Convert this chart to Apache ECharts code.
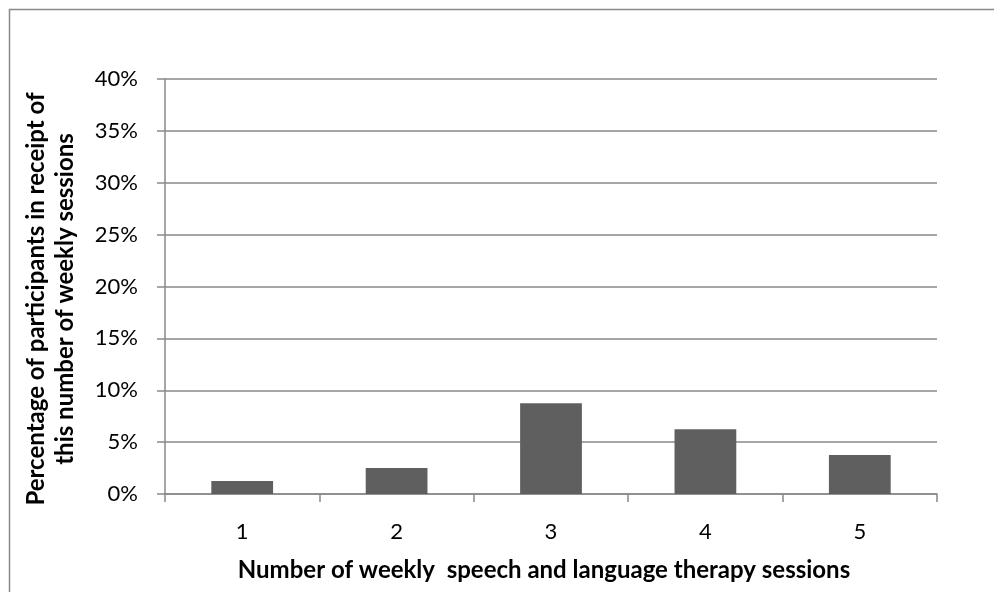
<!DOCTYPE html>
<html>
<head>
<meta charset="utf-8">
<script src="https://cdn.jsdelivr.net/npm/echarts@6/dist/echarts.min.js"></script>
<style>
html,body{margin:0;padding:0;background:#fff;}
#chart{width:994px;height:592px;}
</style>
</head>
<body>
<div id="chart"></div>
<script>
const categories = ['1', '2', '3', '4', '5'];
const percentValues = [0.0125, 0.025, 0.0875, 0.0625, 0.0375];
const xTitle = 'Number of weekly  speech and language therapy sessions';
const yTitle = 'Percentage of participants in receipt of\nthis number of weekly sessions';

const FONT = 'Lato';
const GRAY = '#898989';
const chart = echarts.init(document.getElementById('chart'), null, {renderer: 'canvas'});
chart.setOption({
  animation: false,
  backgroundColor: '#ffffff',
  grid: {left: 165, right: 57, top: 79, bottom: 98, containLabel: false},
  xAxis: {
    type: 'category',
    data: categories,
    axisLine: {show: true, lineStyle: {color: GRAY, width: 1.5}},
    axisTick: {show: true, length: 8, lineStyle: {color: GRAY, width: 1.5}},
    axisLabel: {color: '#000', fontFamily: FONT, fontSize: 22, margin: 27}
  },
  yAxis: {
    type: 'value',
    min: 0, max: 0.4, interval: 0.05,
    axisLine: {show: true, lineStyle: {color: GRAY, width: 1.5}},
    axisTick: {show: true, length: 8, lineStyle: {color: GRAY, width: 1.5}},
    splitLine: {show: true, lineStyle: {color: GRAY, width: 1.5}},
    axisLabel: {
      color: '#000', fontFamily: FONT, fontSize: 22, margin: 27,
      formatter: v => Math.round(v * 100) + '%'
    }
  },
  series: [{
    type: 'bar',
    data: percentValues,
    barWidth: '40%',
    itemStyle: {color: '#5f5f5f'}
  }],
  graphic: [
    {type: 'rect', left: 7, top: 7, shape: {width: 1000, height: 600},
     style: {fill: 'none', stroke: GRAY, lineWidth: 1.5}, silent: true, z: 100},
    {type: 'text', x: 51, y: 299, rotation: Math.PI / 2,
     style: {text: yTitle, fontFamily: FONT, fontWeight: 'bold', fontSize: 24,
             fill: '#000', align: 'center', verticalAlign: 'middle', lineHeight: 29}},
    {type: 'text', x: 544, y: 570,
     style: {text: xTitle, fontFamily: FONT, fontWeight: 'bold', fontSize: 24,
             fill: '#000', align: 'center', verticalAlign: 'middle'}}
  ]
});
</script>
</body>
</html>
